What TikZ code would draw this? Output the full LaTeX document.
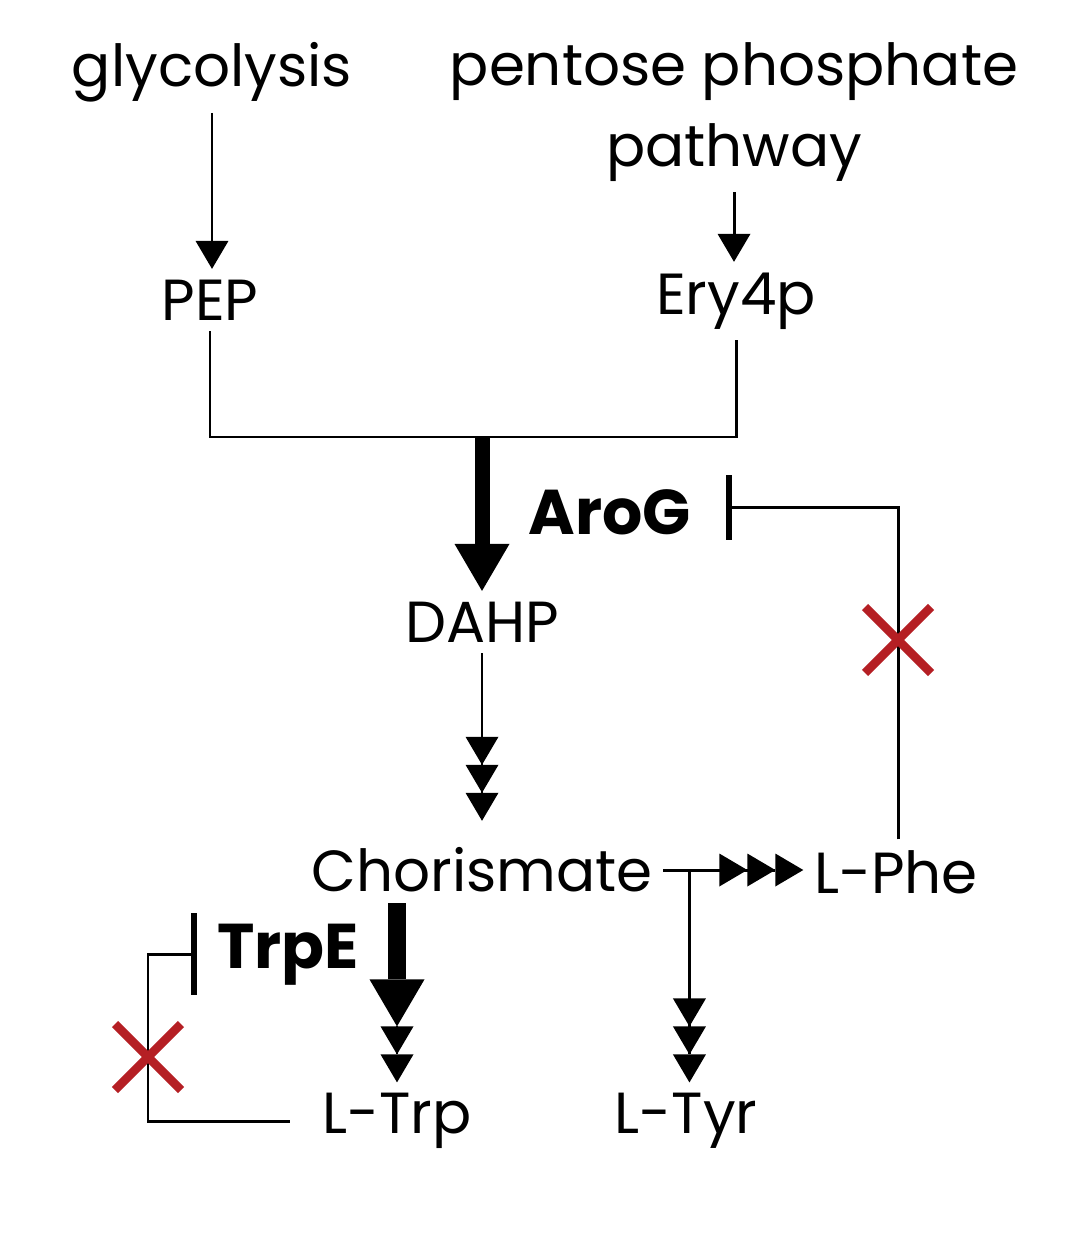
\documentclass[tikz,border=0pt]{standalone}
\usepackage{fontspec}
\setmainfont{Poppins}
\usetikzlibrary{arrows.meta,calc}

\definecolor{crossred}{RGB}{181,31,36}

\tikzset{
    inhib/.style={flow, -{Bar[width=#1, line width=3.4pt]}},
}

\begin{document}
\begin{tikzpicture}[x=0.02cm, y=-0.02cm,
    every node/.style={font=\fontsize{33pt}{46pt}\selectfont, inner sep=6pt},
    enzyme/.style={font=\fontsize{36pt}{40pt}\selectfont\bfseries},
    flow/.style={line width=1.7pt},
    step1/.style={flow, -{Triangle[length=0.56cm, width=0.66cm, line width=0pt]}},
    step2/.style={flow, -{Triangle[length=0.56cm, width=0.66cm, sep=0pt, line width=0pt]
        Triangle[length=0.56cm, width=0.66cm, sep=0pt, line width=0pt]}},
    steps/.style={flow, -{Triangle[length=0.56cm, width=0.66cm, sep=0pt, line width=0pt]
        Triangle[length=0.56cm, width=0.66cm, sep=0pt, line width=0pt]
        Triangle[length=0.56cm, width=0.66cm, sep=0pt, line width=0pt]}},
    boost/.style={line width=0.3cm, -{Triangle[length=0.94cm, width=1.1cm, line width=0pt]}},
    boosttrp/.style={boost, line width=0.36cm},
    cross/.style={crossred, line width=5pt}]
    \useasboundingbox (0,0) rectangle (1076,1254);

    % Metabolites
    \node (glyc) at (212,72) {glycolysis};
    \node[align=center] (ppp) at (734,112) {pentose phosphate\\pathway};
    \node (pep) at (210,300) {PEP};
    \node (ery) at (736,301) {Ery4p};
    \node (dahp) at (482,622) {DAHP};
    \node (chor) at (482,870) {Chorismate};
    \node (lphe) at (896,872) {L-Phe};
    \node (ltrp) at (397,1121) {L-Trp};
    \node (ltyr) at (686,1121) {L-Tyr};

    % Enzymes
    \node[enzyme] (arog) at (610,512) {AroG};
    \node[enzyme] (trpe) at (288,955) {TrpE};

    % Feeding pathways
    \draw[step1] (glyc.south) -- (glyc.south |- pep.north);
    \draw[step1] (ppp.south) -- (ppp.south |- ery.north);

    \coordinate (join) at (482,437);
    \draw[flow] (pep.south) |- (join) -| (ery.south);
    \draw[boost] (join) -- (dahp.north);

    % Shikimate branch
    \draw[steps, shorten >=16*0.02cm] (dahp.south) -- (chor.north);
    \draw[steps] (chor.east) -- (chor.east -| lphe.west);
    \coordinate (branch) at ($(chor.east)+(26,0)$);
    \draw[steps] (branch) -- (branch |- ltyr.north);
    \coordinate (trpmid) at ($(ltrp.north)+(0,-56)$);
    \draw[boosttrp] (ltrp.north |- chor.south) -- (trpmid);
    \draw[step2] (trpmid) -- (ltrp.north);

    % Feedback inhibition
    \coordinate (xphe) at (898,640);
    \coordinate (arogbar) at (726,507);
    \draw[inhib=1.3cm] (xphe |- lphe.north) |- (arogbar);
    \coordinate (xtrp) at (148,1057);
    \coordinate (trpebar) at (197,954);
    \draw[inhib=1.64cm] ($(ltrp.west)+(-22,0)$) -- (ltrp.west -| xtrp) |- (trpebar);

    % Removed feedback
    \draw[cross] ($(xphe)+(-33,-33)$) -- ($(xphe)+(33,33)$)
                 ($(xphe)+(-33,33)$) -- ($(xphe)+(33,-33)$);
    \draw[cross] ($(xtrp)+(-33,-33)$) -- ($(xtrp)+(33,33)$)
                 ($(xtrp)+(-33,33)$) -- ($(xtrp)+(33,-33)$);
\end{tikzpicture}
\end{document}
